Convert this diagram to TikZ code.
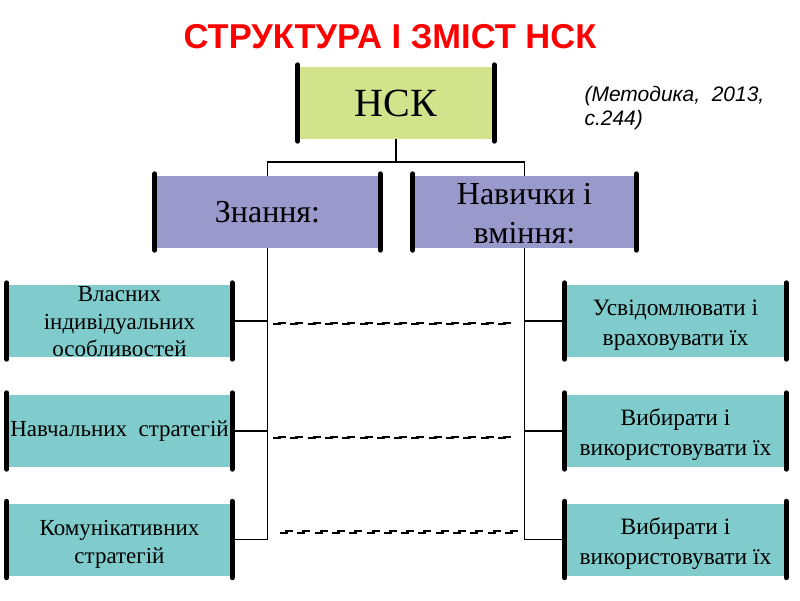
\documentclass[tikz,border=0pt]{standalone}
\usepackage{fontspec}
\usetikzlibrary{calc}
\setmainfont{Liberation Serif}
\newfontfamily\arialf{Liberation Sans}
\definecolor{nskgreen}{HTML}{D2E38C}
\definecolor{lav}{HTML}{9999CC}
\definecolor{teal2}{HTML}{80CCCC}
\begin{document}
\begin{tikzpicture}[x=1pt,y=-1pt,
  box/.style={fill=#1, draw=none, inner sep=0pt, align=center, minimum height=72pt},
  bar/.style={line width=5pt, line cap=round, black},
  conn/.style={line width=1.6pt, black},
  dlow/.style={line width=2pt, black, dash pattern=on 8pt off 9.3pt},
  dhigh/.style={line width=2pt, black, dash pattern=on 8pt off 9.3pt, dash phase=12.3pt},
  lefttxt/.style={font=\fontsize{23}{27.5}\selectfont, align=center, inner sep=0pt},
  righttxt/.style={font=\fontsize{23.5}{30}\selectfont, align=center, inner sep=0pt}
]
\path[use as bounding box, fill=white] (0,0) rectangle (800,600);

% title
\node[text=red, font=\arialf\bfseries\fontsize{34.5}{38}\selectfont] (title) at (390,37) {СТРУКТУРА І ЗМІСТ НСК};

% reference
\node[anchor=north west, align=left, font=\arialf\itshape\fontsize{21}{24}\selectfont] (ref) at (581,83) {(Методика,\ \ 2013,\\с.244)};

% main nodes
\node[box=nskgreen, minimum width=196pt, font=\fontsize{40}{44}\selectfont] (nsk) at (396,103) {НСК};
\node[box=lav, minimum width=225pt, font=\fontsize{32}{38}\selectfont] (zn) at (267.5,212) {Знання:};
\node[box=lav, minimum width=223pt,
  label={[font=\fontsize{32}{39}\selectfont, align=center, inner sep=0pt, yshift=-2pt]center:{Навички і\\вміння:}}] (nav) at (524.5,212) {};

\node[box=teal2, minimum width=225pt,
  label={[lefttxt, yshift=-1pt]center:{Власних\\індивідуальних\\особливостей}}] (l1) at (119.5,321) {};
\node[box=teal2, minimum width=225pt, lefttxt] (l2) at (119.5,431) {Навчальних\ \ стратегій};
\node[box=teal2, minimum width=225pt,
  label={[lefttxt, yshift=-5pt]center:{Комунікативних\\стратегій}}] (l3) at (119.5,539.5) {};

\node[box=teal2, minimum width=221pt,
  label={[righttxt, yshift=-4pt]center:{Усвідомлювати і\\враховувати їх}}] (r1) at (675.5,321) {};
\node[box=teal2, minimum width=221pt,
  label={[righttxt, yshift=-4pt]center:{Вибирати і\\використовувати їх}}] (r2) at (675.5,431) {};
\node[box=teal2, minimum width=221pt,
  label={[righttxt, yshift=-4pt]center:{Вибирати і\\використовувати їх}}] (r3) at (675.5,539.5) {};

% thick side bars
\foreach \n in {nsk,zn,nav,l1,l2,l3,r1,r2,r3}{
  \draw[bar] ([yshift=2pt]\n.north west) -- ([yshift=-2pt]\n.south west);
  \draw[bar] ([yshift=2pt]\n.north east) -- ([yshift=-2pt]\n.south east);
}

% connectors
\coordinate (hub) at ($(nsk.south)+(0,23)$);
\draw[conn] (nsk.south) -- (hub) -| (zn.north);
\draw[conn] (hub) -| (nav.north);

\draw[conn] (zn.south) |- (l3.east);
\draw[conn] (zn.south |- l1.east) -- (l1.east);
\draw[conn] (zn.south |- l2.east) -- (l2.east);

\draw[conn] (nav.south) |- (r3.west);
\draw[conn] (nav.south |- r1.west) -- (r1.west);
\draw[conn] (nav.south |- r2.west) -- (r2.west);

% decorative dashed lines
\coordinate (d1s) at (273,323.5);
\coordinate (d1e) at (515,323.5);
\coordinate (d2s) at (273,437.5);
\coordinate (d2e) at (515,437.5);
\coordinate (d3s) at (280,532);
\coordinate (d3e) at (522,532);
\foreach \a/\b in {d1s/d1e,d2s/d2e,d3s/d3e}{
  \draw[dlow] ([yshift=-0.9pt]\a) -- ([yshift=-0.9pt]\b);
  \draw[dhigh] ([yshift=0.9pt]\a) -- ([yshift=0.9pt]\b);
}
\end{tikzpicture}
\end{document}
